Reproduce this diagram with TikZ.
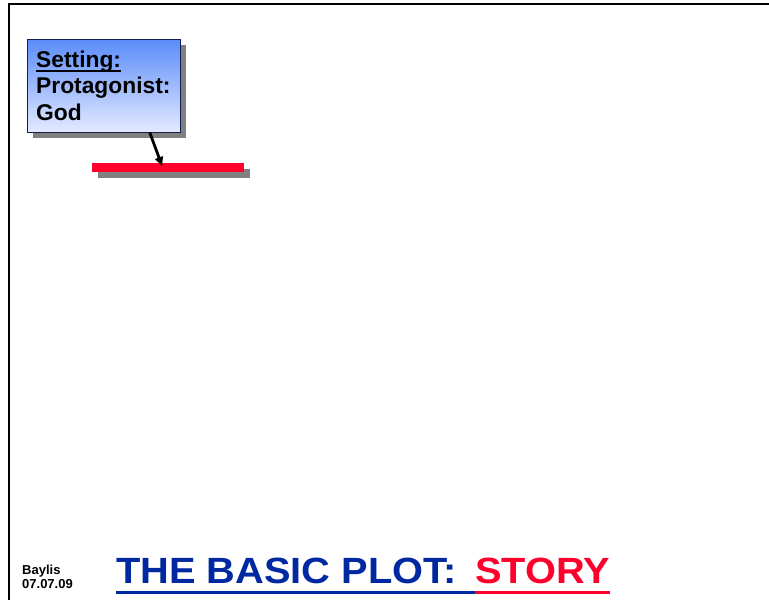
\documentclass[tikz,border=0pt]{standalone}
\usepackage{fontspec}
\setmainfont{Liberation Sans}
\newfontfamily\titlefont[FakeStretch=1.09]{Liberation Sans}
\usetikzlibrary{arrows.meta, positioning, calc, shadows}

% thick underline for the box heading
\newcommand{\headul}[1]{\setbox0\hbox{#1}\rlap{\rule[-4.5pt]{\wd0}{2pt}}\box0}

\begin{document}
\begin{tikzpicture}[x=1pt, y=-1pt, every node/.style={font=\bfseries}]

% --- COLOURS ---
\definecolor{boxtop}{RGB}{90, 140, 250}     % top of the box gradient
\definecolor{boxbottom}{RGB}{228, 234, 255} % bottom of the box gradient
\definecolor{boxline}{RGB}{20, 30, 80}      % box border
\definecolor{plotred}{RGB}{255, 0, 45}      % red bar and STORY
\definecolor{plotblue}{RGB}{0, 40, 160}     % title blue
\definecolor{shade}{RGB}{128, 128, 128}     % drop shadows

\tikzset{
    boxshadow/.style={drop shadow={shadow xshift=5.5pt, shadow yshift=-5.5pt, fill=shade, opacity=1}},
    notebox/.style={draw=boxline, thin, top color=boxtop, bottom color=boxbottom,
        boxshadow, minimum width=153pt, minimum height=93pt, inner sep=9pt,
        align=left, text width=135pt, font=\fontsize{22.8}{26.8}\selectfont\bfseries},
    plotbar/.style={fill=plotred, boxshadow, minimum width=152pt, minimum height=9pt, inner sep=0pt},
    titlepart/.style={inner sep=0pt, font=\titlefont\fontsize{36.5}{40}\selectfont\bfseries},
    footnote/.style={inner sep=0pt, anchor=base west, font=\fontsize{13}{14}\selectfont\bfseries},
}

\useasboundingbox (0,0) rectangle (769,600);

% --- FRAME (top and left only) ---
\draw[line width=2pt] (9,600) -- (9,4) -- (769,4);

% --- SETTING BOX ---
\node[notebox, anchor=north west] (setting) at (27,39)
    {\headul{Setting:}\\Protagonist:\\God};

% --- RED PLOT LINE ---
\node[plotbar, anchor=north west] (plotline) at (92,163) {};

% arrow from box to the plot line
\draw[-{Triangle[length=9pt, width=8pt]}, line width=2.8pt]
    ($(setting.south west)!0.8!(setting.south east)$) -- ($(plotline.north west)!0.46!(plotline.north east)+(0,3)$);

% --- FOOTER ---
\node[footnote] (author) at (22,574) {Baylis};
\node[footnote] (date) at (22,588) {07.07.09};

\node[titlepart, text=plotblue, anchor=base west] (titleblue) at (116,583) {THE BASIC PLOT:};
\node[titlepart, text=plotred, anchor=base west] (titlered) at (475,583) {STORY};
\draw[plotblue, line width=3.5pt] ([yshift=-9.5pt]titleblue.base west) -- ([yshift=-9.5pt]titlered.base west);
\draw[plotred, line width=3.5pt] ([yshift=-9.5pt]titlered.base west) -- ([yshift=-9.5pt]titlered.base east);

\end{tikzpicture}
\end{document}
